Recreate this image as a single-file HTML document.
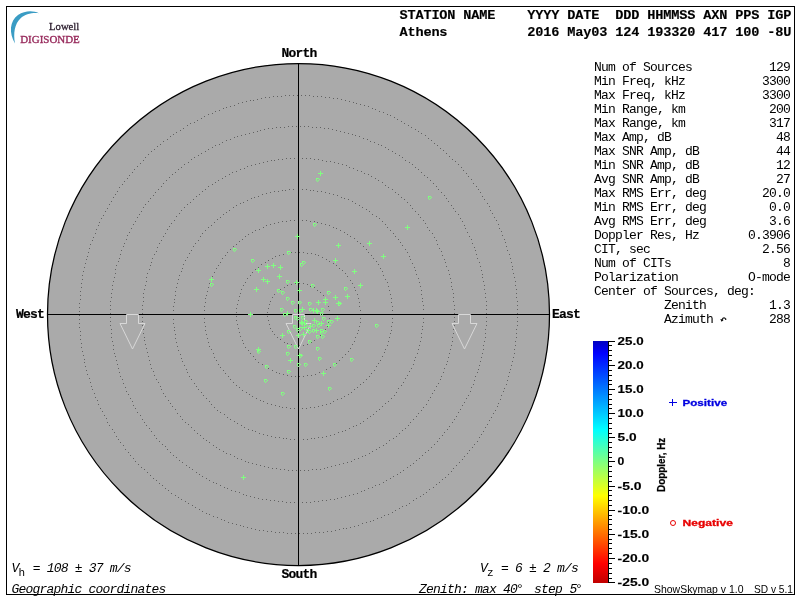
<!DOCTYPE html>
<html><head><meta charset="utf-8"><title>Skymap</title>
<style>
html,body{margin:0;padding:0;background:#fff;}
body{width:800px;height:600px;overflow:hidden;position:relative;}
svg{position:absolute;left:0;top:0;}
.t{position:absolute;white-space:pre;color:#000;line-height:1;margin:0;padding:0;}
.m{font-family:"Liberation Mono",monospace;font-size:13px;letter-spacing:-0.801px;}
.mb{-webkit-text-stroke:0.2px #000;font-family:"Liberation Mono",monospace;font-weight:bold;font-size:13px;letter-spacing:-0.801px;}
.mi{font-family:"Liberation Mono",monospace;font-style:italic;font-size:13px;letter-spacing:-0.801px;}
.sub{font-style:normal;font-size:11px;letter-spacing:0.4px;position:relative;top:4px;}
.hb{-webkit-text-stroke:0.15px #000;font-family:"Liberation Mono",monospace;font-weight:bold;font-size:13.6px;letter-spacing:-0.161px;}
#w{position:absolute;left:0;top:0;width:800px;height:600px;will-change:transform;}
</style></head><body><div id="w">
<svg width="800" height="600" viewBox="0 0 800 600">
<defs>
<linearGradient id="cb" x1="0" y1="0" x2="0" y2="1">
<stop offset="0" stop-color="#0000c0"/>
<stop offset="0.05" stop-color="#0000ff"/>
<stop offset="0.367" stop-color="#00ffff"/>
<stop offset="0.5" stop-color="#80ff80"/>
<stop offset="0.64" stop-color="#ffff00"/>
<stop offset="0.92" stop-color="#ff0000"/>
<stop offset="1" stop-color="#c00000"/>
</linearGradient>
</defs>

<circle cx="298.5" cy="314.5" r="251.0" fill="#aaaaaa" stroke="#000" stroke-width="1.25"/>
<path d="M329 314.5h1M329 310.5h1M328 306.5h1M327 302.5h1M325 299.5h1M323 295.5h1M320 292.5h1M317 290.5h1M314 287.5h1M310 286.5h1M307 284.5h1M303 283.5h1M299 283.5h1M295 283.5h1M291 284.5h1M287 285.5h1M284 287.5h1M280 289.5h1M277 291.5h1M274 294.5h1M272 297.5h1M270 301.5h1M269 304.5h1M268 308.5h1M267 312.5h1M267 316.5h1M268 320.5h1M269 324.5h1M270 328.5h1M272 331.5h1M274 334.5h1M277 337.5h1M280 339.5h1M284 342.5h1M287 343.5h1M291 344.5h1M295 345.5h1M299 345.5h1M303 345.5h1M307 344.5h1M311 342.5h1M314 340.5h1M317 338.5h1M320 335.5h1M323 332.5h1M325 329.5h1M327 326.5h1M328 322.5h1M329 318.5h1M360 314.5h1M360 310.5h1M359 306.5h1M359 302.5h1M358 298.5h1M357 294.5h1M355 290.5h1M354 287.5h1M352 283.5h1M350 280.5h1M347 276.5h1M345 273.5h1M342 270.5h1M339 268.5h1M336 265.5h1M333 263.5h1M329 261.5h1M326 259.5h1M322 257.5h1M318 255.5h1M315 254.5h1M311 253.5h1M307 253.5h1M303 252.5h1M299 252.5h1M295 252.5h1M291 252.5h1M287 253.5h1M283 254.5h1M279 255.5h1M275 256.5h1M272 258.5h1M268 260.5h1M265 262.5h1M261 264.5h1M258 267.5h1M255 269.5h1M252 272.5h1M250 275.5h1M247 278.5h1M245 282.5h1M243 285.5h1M241 289.5h1M240 293.5h1M239 296.5h1M238 300.5h1M237 304.5h1M236 308.5h1M236 312.5h1M236 316.5h1M236 320.5h1M237 324.5h1M238 328.5h1M239 332.5h1M240 336.5h1M242 340.5h1M243 343.5h1M245 347.5h1M248 350.5h1M250 353.5h1M253 356.5h1M255 359.5h1M258 362.5h1M262 364.5h1M265 366.5h1M268 368.5h1M272 370.5h1M276 372.5h1M279 373.5h1M283 374.5h1M287 375.5h1M291 376.5h1M295 376.5h1M299 376.5h1M303 376.5h1M307 375.5h1M311 375.5h1M315 374.5h1M319 372.5h1M323 371.5h1M326 369.5h1M330 367.5h1M333 365.5h1M336 363.5h1M339 360.5h1M342 357.5h1M345 354.5h1M348 351.5h1M350 348.5h1M352 344.5h1M354 341.5h1M355 337.5h1M357 333.5h1M358 330.5h1M359 326.5h1M360 322.5h1M360 318.5h1M392 314.5h1M392 310.5h1M392 306.5h1M391 302.5h1M391 298.5h1M390 294.5h1M389 290.5h1M388 286.5h1M387 282.5h1M385 279.5h1M383 275.5h1M382 271.5h1M380 268.5h1M378 264.5h1M376 261.5h1M373 258.5h1M371 255.5h1M368 252.5h1M366 249.5h1M363 246.5h1M360 243.5h1M357 241.5h1M354 238.5h1M350 236.5h1M347 234.5h1M344 232.5h1M340 230.5h1M336 228.5h1M333 227.5h1M329 225.5h1M325 224.5h1M321 223.5h1M317 222.5h1M314 221.5h1M310 221.5h1M306 220.5h1M302 220.5h1M298 220.5h1M294 220.5h1M290 220.5h1M286 221.5h1M282 221.5h1M278 222.5h1M274 223.5h1M270 224.5h1M266 225.5h1M263 227.5h1M259 229.5h1M255 230.5h1M252 232.5h1M248 234.5h1M245 236.5h1M242 239.5h1M239 241.5h1M236 244.5h1M233 246.5h1M230 249.5h1M227 252.5h1M225 255.5h1M222 258.5h1M220 262.5h1M218 265.5h1M216 268.5h1M214 272.5h1M212 276.5h1M211 279.5h1M209 283.5h1M208 287.5h1M207 291.5h1M206 295.5h1M205 298.5h1M205 302.5h1M204 306.5h1M204 310.5h1M204 314.5h1M204 318.5h1M204 322.5h1M205 326.5h1M205 330.5h1M206 334.5h1M207 338.5h1M208 342.5h1M209 346.5h1M211 349.5h1M213 353.5h1M214 357.5h1M216 360.5h1M218 364.5h1M220 367.5h1M223 370.5h1M225 373.5h1M228 376.5h1M230 379.5h1M233 382.5h1M236 385.5h1M239 387.5h1M242 390.5h1M246 392.5h1M249 394.5h1M252 396.5h1M256 398.5h1M260 400.5h1M263 401.5h1M267 403.5h1M271 404.5h1M275 405.5h1M279 406.5h1M282 407.5h1M286 407.5h1M290 408.5h1M294 408.5h1M298 408.5h1M302 408.5h1M306 408.5h1M310 407.5h1M314 407.5h1M318 406.5h1M322 405.5h1M326 404.5h1M330 403.5h1M333 401.5h1M337 399.5h1M341 398.5h1M344 396.5h1M348 394.5h1M351 392.5h1M354 389.5h1M357 387.5h1M360 384.5h1M363 382.5h1M366 379.5h1M369 376.5h1M371 373.5h1M374 370.5h1M376 366.5h1M378 363.5h1M380 360.5h1M382 356.5h1M384 352.5h1M385 349.5h1M387 345.5h1M388 341.5h1M389 337.5h1M390 333.5h1M391 330.5h1M391 326.5h1M392 322.5h1M392 318.5h1M423 314.5h1M423 309.5h1M423 305.5h1M422 301.5h1M422 298.5h1M421 294.5h1M421 290.5h1M420 286.5h1M419 282.5h1M418 278.5h1M416 274.5h1M415 270.5h1M414 267.5h1M412 263.5h1M410 259.5h1M409 256.5h1M407 252.5h1M405 249.5h1M402 245.5h1M400 242.5h1M398 239.5h1M395 236.5h1M393 233.5h1M390 230.5h1M387 227.5h1M385 224.5h1M382 221.5h1M379 218.5h1M376 216.5h1M372 214.5h1M369 211.5h1M366 209.5h1M362 207.5h1M359 205.5h1M355 203.5h1M352 201.5h1M348 199.5h1M344 198.5h1M341 197.5h1M337 195.5h1M333 194.5h1M329 193.5h1M325 192.5h1M321 191.5h1M317 191.5h1M313 190.5h1M310 190.5h1M306 189.5h1M302 189.5h1M298 189.5h1M293 189.5h1M289 189.5h1M285 190.5h1M282 190.5h1M278 191.5h1M274 191.5h1M270 192.5h1M266 193.5h1M262 194.5h1M258 196.5h1M254 197.5h1M251 198.5h1M247 200.5h1M243 202.5h1M240 203.5h1M236 205.5h1M233 207.5h1M229 210.5h1M226 212.5h1M223 214.5h1M220 217.5h1M217 219.5h1M214 222.5h1M211 225.5h1M208 227.5h1M205 230.5h1M202 233.5h1M200 236.5h1M198 240.5h1M195 243.5h1M193 246.5h1M191 250.5h1M189 253.5h1M187 257.5h1M185 260.5h1M183 264.5h1M182 268.5h1M181 271.5h1M179 275.5h1M178 279.5h1M177 283.5h1M176 287.5h1M175 291.5h1M175 295.5h1M174 299.5h1M174 302.5h1M173 306.5h1M173 310.5h1M173 314.5h1M173 319.5h1M173 323.5h1M174 327.5h1M174 330.5h1M175 334.5h1M175 338.5h1M176 342.5h1M177 346.5h1M178 350.5h1M180 354.5h1M181 358.5h1M182 361.5h1M184 365.5h1M186 369.5h1M187 372.5h1M189 376.5h1M191 379.5h1M194 383.5h1M196 386.5h1M198 389.5h1M201 392.5h1M203 395.5h1M206 398.5h1M209 401.5h1M211 404.5h1M214 407.5h1M217 410.5h1M220 412.5h1M224 414.5h1M227 417.5h1M230 419.5h1M234 421.5h1M237 423.5h1M241 425.5h1M244 427.5h1M248 429.5h1M252 430.5h1M255 431.5h1M259 433.5h1M263 434.5h1M267 435.5h1M271 436.5h1M275 437.5h1M279 437.5h1M283 438.5h1M286 438.5h1M290 439.5h1M294 439.5h1M298 439.5h1M303 439.5h1M307 439.5h1M311 438.5h1M314 438.5h1M318 437.5h1M322 437.5h1M326 436.5h1M330 435.5h1M334 434.5h1M338 432.5h1M342 431.5h1M345 430.5h1M349 428.5h1M353 426.5h1M356 425.5h1M360 423.5h1M363 421.5h1M367 418.5h1M370 416.5h1M373 414.5h1M376 411.5h1M379 409.5h1M382 406.5h1M385 403.5h1M388 401.5h1M391 398.5h1M394 395.5h1M396 392.5h1M398 388.5h1M401 385.5h1M403 382.5h1M405 378.5h1M407 375.5h1M409 371.5h1M411 368.5h1M413 364.5h1M414 360.5h1M415 357.5h1M417 353.5h1M418 349.5h1M419 345.5h1M420 341.5h1M421 337.5h1M421 333.5h1M422 329.5h1M422 326.5h1M423 322.5h1M423 318.5h1M454 313.5h1M454 309.5h1M454 305.5h1M453 301.5h1M453 297.5h1M453 293.5h1M452 289.5h1M451 286.5h1M451 282.5h1M450 278.5h1M449 274.5h1M448 270.5h1M446 266.5h1M445 262.5h1M444 259.5h1M442 255.5h1M441 251.5h1M439 248.5h1M437 244.5h1M436 240.5h1M434 237.5h1M432 233.5h1M429 230.5h1M427 227.5h1M425 223.5h1M423 220.5h1M420 217.5h1M418 214.5h1M415 211.5h1M412 208.5h1M410 205.5h1M407 202.5h1M404 199.5h1M401 197.5h1M398 194.5h1M395 192.5h1M392 189.5h1M388 187.5h1M385 185.5h1M382 182.5h1M378 180.5h1M375 178.5h1M371 176.5h1M368 174.5h1M364 173.5h1M361 171.5h1M357 170.5h1M353 168.5h1M349 167.5h1M346 165.5h1M342 164.5h1M338 163.5h1M334 162.5h1M330 161.5h1M326 161.5h1M322 160.5h1M318 159.5h1M314 159.5h1M310 158.5h1M306 158.5h1M302 158.5h1M298 158.5h1M294 158.5h1M290 158.5h1M286 158.5h1M282 159.5h1M278 159.5h1M274 160.5h1M271 160.5h1M267 161.5h1M263 162.5h1M259 163.5h1M255 164.5h1M251 165.5h1M247 166.5h1M244 168.5h1M240 169.5h1M236 171.5h1M232 172.5h1M229 174.5h1M225 176.5h1M222 178.5h1M218 180.5h1M215 182.5h1M212 184.5h1M208 186.5h1M205 189.5h1M202 191.5h1M199 194.5h1M196 196.5h1M193 199.5h1M190 202.5h1M187 204.5h1M184 207.5h1M181 210.5h1M179 213.5h1M176 216.5h1M174 220.5h1M171 223.5h1M169 226.5h1M167 229.5h1M165 233.5h1M163 236.5h1M161 240.5h1M159 243.5h1M157 247.5h1M156 251.5h1M154 254.5h1M152 258.5h1M151 262.5h1M150 265.5h1M149 269.5h1M147 273.5h1M146 277.5h1M146 281.5h1M145 285.5h1M144 289.5h1M143 293.5h1M143 297.5h1M143 301.5h1M142 305.5h1M142 309.5h1M142 313.5h1M142 317.5h1M142 321.5h1M142 325.5h1M143 329.5h1M143 333.5h1M144 337.5h1M144 340.5h1M145 344.5h1M146 348.5h1M147 352.5h1M148 356.5h1M149 360.5h1M150 364.5h1M151 368.5h1M153 371.5h1M154 375.5h1M156 379.5h1M158 382.5h1M160 386.5h1M161 389.5h1M163 393.5h1M165 396.5h1M168 400.5h1M170 403.5h1M172 406.5h1M175 409.5h1M177 413.5h1M180 416.5h1M182 419.5h1M185 422.5h1M188 424.5h1M191 427.5h1M194 430.5h1M197 433.5h1M200 435.5h1M203 438.5h1M206 440.5h1M209 442.5h1M213 445.5h1M216 447.5h1M219 449.5h1M223 451.5h1M226 453.5h1M230 454.5h1M234 456.5h1M237 458.5h1M241 459.5h1M245 461.5h1M248 462.5h1M252 463.5h1M256 464.5h1M260 465.5h1M264 466.5h1M268 467.5h1M272 468.5h1M276 468.5h1M280 469.5h1M284 469.5h1M288 470.5h1M292 470.5h1M296 470.5h1M300 470.5h1M304 470.5h1M308 470.5h1M312 469.5h1M316 469.5h1M320 469.5h1M324 468.5h1M327 467.5h1M331 466.5h1M335 465.5h1M339 464.5h1M343 463.5h1M347 462.5h1M351 461.5h1M354 459.5h1M358 458.5h1M362 456.5h1M365 455.5h1M369 453.5h1M372 451.5h1M376 449.5h1M379 447.5h1M383 445.5h1M386 443.5h1M389 440.5h1M393 438.5h1M396 436.5h1M399 433.5h1M402 430.5h1M405 428.5h1M408 425.5h1M410 422.5h1M413 419.5h1M416 416.5h1M418 413.5h1M421 410.5h1M423 407.5h1M426 404.5h1M428 400.5h1M430 397.5h1M432 393.5h1M434 390.5h1M436 386.5h1M438 383.5h1M440 379.5h1M441 376.5h1M443 372.5h1M444 368.5h1M446 364.5h1M447 361.5h1M448 357.5h1M449 353.5h1M450 349.5h1M451 345.5h1M452 341.5h1M452 337.5h1M453 333.5h1M453 329.5h1M454 325.5h1M454 321.5h1M454 317.5h1M486 313.5h1M486 309.5h1M486 305.5h1M486 301.5h1M485 297.5h1M485 293.5h1M484 289.5h1M484 285.5h1M483 281.5h1M482 277.5h1M482 274.5h1M481 270.5h1M480 266.5h1M479 262.5h1M477 258.5h1M476 254.5h1M475 250.5h1M474 247.5h1M472 243.5h1M471 239.5h1M469 236.5h1M467 232.5h1M465 228.5h1M464 225.5h1M462 221.5h1M460 218.5h1M458 214.5h1M455 211.5h1M453 208.5h1M451 205.5h1M448 201.5h1M446 198.5h1M444 195.5h1M441 192.5h1M438 189.5h1M436 186.5h1M433 183.5h1M430 180.5h1M427 177.5h1M424 175.5h1M421 172.5h1M418 169.5h1M415 167.5h1M412 164.5h1M409 162.5h1M405 160.5h1M402 157.5h1M399 155.5h1M395 153.5h1M392 151.5h1M388 149.5h1M385 147.5h1M381 145.5h1M378 144.5h1M374 142.5h1M370 141.5h1M367 139.5h1M363 138.5h1M359 136.5h1M355 135.5h1M352 134.5h1M348 133.5h1M344 132.5h1M340 131.5h1M336 130.5h1M332 129.5h1M328 128.5h1M324 128.5h1M320 127.5h1M316 127.5h1M312 127.5h1M308 126.5h1M304 126.5h1M300 126.5h1M296 126.5h1M292 126.5h1M288 126.5h1M284 127.5h1M280 127.5h1M276 127.5h1M272 128.5h1M268 128.5h1M264 129.5h1M260 130.5h1M257 131.5h1M253 132.5h1M249 133.5h1M245 134.5h1M241 135.5h1M237 136.5h1M234 137.5h1M230 139.5h1M226 140.5h1M222 142.5h1M219 144.5h1M215 145.5h1M212 147.5h1M208 149.5h1M205 151.5h1M201 153.5h1M198 155.5h1M194 157.5h1M191 159.5h1M188 162.5h1M184 164.5h1M181 167.5h1M178 169.5h1M175 172.5h1M172 174.5h1M169 177.5h1M166 180.5h1M163 183.5h1M161 186.5h1M158 189.5h1M155 192.5h1M153 195.5h1M150 198.5h1M148 201.5h1M145 204.5h1M143 207.5h1M141 211.5h1M139 214.5h1M137 217.5h1M135 221.5h1M133 224.5h1M131 228.5h1M129 232.5h1M127 235.5h1M126 239.5h1M124 243.5h1M123 246.5h1M121 250.5h1M120 254.5h1M119 258.5h1M118 261.5h1M116 265.5h1M115 269.5h1M115 273.5h1M114 277.5h1M113 281.5h1M112 285.5h1M112 289.5h1M111 293.5h1M111 297.5h1M110 301.5h1M110 305.5h1M110 309.5h1M110 313.5h1M110 317.5h1M110 321.5h1M110 325.5h1M111 329.5h1M111 333.5h1M111 337.5h1M112 341.5h1M113 345.5h1M113 349.5h1M114 353.5h1M115 356.5h1M116 360.5h1M117 364.5h1M118 368.5h1M119 372.5h1M120 376.5h1M122 379.5h1M123 383.5h1M125 387.5h1M126 391.5h1M128 394.5h1M130 398.5h1M132 401.5h1M133 405.5h1M135 408.5h1M137 412.5h1M140 415.5h1M142 419.5h1M144 422.5h1M146 425.5h1M149 428.5h1M151 431.5h1M154 435.5h1M156 438.5h1M159 441.5h1M162 444.5h1M165 446.5h1M167 449.5h1M170 452.5h1M173 455.5h1M176 457.5h1M179 460.5h1M182 462.5h1M186 465.5h1M189 467.5h1M192 469.5h1M196 472.5h1M199 474.5h1M202 476.5h1M206 478.5h1M209 480.5h1M213 482.5h1M216 483.5h1M220 485.5h1M224 487.5h1M227 488.5h1M231 490.5h1M235 491.5h1M239 492.5h1M243 494.5h1M246 495.5h1M250 496.5h1M254 497.5h1M258 498.5h1M262 499.5h1M266 499.5h1M270 500.5h1M274 500.5h1M278 501.5h1M282 501.5h1M286 502.5h1M290 502.5h1M294 502.5h1M298 502.5h1M302 502.5h1M306 502.5h1M310 502.5h1M314 501.5h1M318 501.5h1M322 500.5h1M326 500.5h1M330 499.5h1M334 499.5h1M337 498.5h1M341 497.5h1M345 496.5h1M349 495.5h1M353 494.5h1M357 493.5h1M361 491.5h1M364 490.5h1M368 488.5h1M372 487.5h1M375 485.5h1M379 484.5h1M383 482.5h1M386 480.5h1M390 478.5h1M393 476.5h1M397 474.5h1M400 472.5h1M403 470.5h1M407 467.5h1M410 465.5h1M413 463.5h1M416 460.5h1M419 458.5h1M422 455.5h1M425 452.5h1M428 450.5h1M431 447.5h1M434 444.5h1M437 441.5h1M439 438.5h1M442 435.5h1M444 432.5h1M447 429.5h1M449 426.5h1M452 422.5h1M454 419.5h1M456 416.5h1M458 412.5h1M460 409.5h1M462 405.5h1M464 402.5h1M466 398.5h1M468 395.5h1M470 391.5h1M471 387.5h1M473 384.5h1M474 380.5h1M475 376.5h1M477 372.5h1M478 369.5h1M479 365.5h1M480 361.5h1M481 357.5h1M482 353.5h1M483 349.5h1M483 345.5h1M484 341.5h1M485 337.5h1M485 333.5h1M485 329.5h1M486 325.5h1M486 321.5h1M486 317.5h1M517 313.5h1M517 309.5h1M517 305.5h1M517 301.5h1M516 297.5h1M516 293.5h1M516 289.5h1M515 285.5h1M515 281.5h1M514 277.5h1M513 273.5h1M512 269.5h1M512 266.5h1M511 262.5h1M510 258.5h1M509 254.5h1M507 250.5h1M506 246.5h1M505 242.5h1M504 239.5h1M502 235.5h1M501 231.5h1M499 228.5h1M498 224.5h1M496 220.5h1M494 217.5h1M492 213.5h1M490 210.5h1M489 206.5h1M487 203.5h1M484 199.5h1M482 196.5h1M480 192.5h1M478 189.5h1M476 186.5h1M473 183.5h1M471 179.5h1M468 176.5h1M466 173.5h1M463 170.5h1M461 167.5h1M458 164.5h1M455 161.5h1M452 159.5h1M449 156.5h1M446 153.5h1M443 150.5h1M440 148.5h1M437 145.5h1M434 143.5h1M431 140.5h1M428 138.5h1M425 135.5h1M421 133.5h1M418 131.5h1M415 129.5h1M411 127.5h1M408 125.5h1M404 123.5h1M401 121.5h1M397 119.5h1M394 117.5h1M390 115.5h1M387 114.5h1M383 112.5h1M379 111.5h1M375 109.5h1M372 108.5h1M368 106.5h1M364 105.5h1M360 104.5h1M356 103.5h1M353 102.5h1M349 101.5h1M345 100.5h1M341 99.5h1M337 98.5h1M333 98.5h1M329 97.5h1M325 97.5h1M321 96.5h1M317 96.5h1M313 96.5h1M309 95.5h1M305 95.5h1M301 95.5h1M297 95.5h1M293 95.5h1M289 95.5h1M285 95.5h1M281 96.5h1M277 96.5h1M273 96.5h1M269 97.5h1M265 97.5h1M261 98.5h1M257 99.5h1M253 100.5h1M250 100.5h1M246 101.5h1M242 102.5h1M238 103.5h1M234 105.5h1M230 106.5h1M226 107.5h1M223 108.5h1M219 110.5h1M215 111.5h1M212 113.5h1M208 114.5h1M204 116.5h1M201 118.5h1M197 120.5h1M194 122.5h1M190 123.5h1M187 125.5h1M183 128.5h1M180 130.5h1M176 132.5h1M173 134.5h1M170 136.5h1M167 139.5h1M163 141.5h1M160 144.5h1M157 146.5h1M154 149.5h1M151 151.5h1M148 154.5h1M145 157.5h1M143 160.5h1M140 163.5h1M137 166.5h1M134 169.5h1M132 172.5h1M129 175.5h1M127 178.5h1M124 181.5h1M122 184.5h1M119 187.5h1M117 191.5h1M115 194.5h1M113 197.5h1M111 201.5h1M109 204.5h1M107 208.5h1M105 211.5h1M103 215.5h1M101 218.5h1M99 222.5h1M98 225.5h1M96 229.5h1M95 233.5h1M93 237.5h1M92 240.5h1M90 244.5h1M89 248.5h1M88 252.5h1M87 256.5h1M86 259.5h1M85 263.5h1M84 267.5h1M83 271.5h1M82 275.5h1M82 279.5h1M81 283.5h1M81 287.5h1M80 291.5h1M80 295.5h1M80 299.5h1M79 303.5h1M79 307.5h1M79 311.5h1M79 315.5h1M79 319.5h1M79 323.5h1M79 327.5h1M80 331.5h1M80 335.5h1M80 339.5h1M81 343.5h1M81 347.5h1M82 351.5h1M83 355.5h1M84 359.5h1M84 362.5h1M85 366.5h1M86 370.5h1M87 374.5h1M89 378.5h1M90 382.5h1M91 386.5h1M92 389.5h1M94 393.5h1M95 397.5h1M97 400.5h1M98 404.5h1M100 408.5h1M102 411.5h1M104 415.5h1M106 418.5h1M107 422.5h1M109 425.5h1M112 429.5h1M114 432.5h1M116 436.5h1M118 439.5h1M120 442.5h1M123 445.5h1M125 449.5h1M128 452.5h1M130 455.5h1M133 458.5h1M135 461.5h1M138 464.5h1M141 467.5h1M144 469.5h1M147 472.5h1M150 475.5h1M153 478.5h1M156 480.5h1M159 483.5h1M162 485.5h1M165 488.5h1M168 490.5h1M171 493.5h1M175 495.5h1M178 497.5h1M181 499.5h1M185 501.5h1M188 503.5h1M192 505.5h1M195 507.5h1M199 509.5h1M202 511.5h1M206 513.5h1M209 514.5h1M213 516.5h1M217 517.5h1M221 519.5h1M224 520.5h1M228 522.5h1M232 523.5h1M236 524.5h1M240 525.5h1M243 526.5h1M247 527.5h1M251 528.5h1M255 529.5h1M259 530.5h1M263 530.5h1M267 531.5h1M271 531.5h1M275 532.5h1M279 532.5h1M283 532.5h1M287 533.5h1M291 533.5h1M295 533.5h1M299 533.5h1M303 533.5h1M307 533.5h1M311 533.5h1M315 532.5h1M319 532.5h1M323 532.5h1M327 531.5h1M331 531.5h1M335 530.5h1M339 529.5h1M343 528.5h1M346 528.5h1M350 527.5h1M354 526.5h1M358 525.5h1M362 523.5h1M366 522.5h1M370 521.5h1M373 520.5h1M377 518.5h1M381 517.5h1M384 515.5h1M388 514.5h1M392 512.5h1M395 510.5h1M399 508.5h1M402 506.5h1M406 505.5h1M409 503.5h1M413 500.5h1M416 498.5h1M420 496.5h1M423 494.5h1M426 492.5h1M429 489.5h1M433 487.5h1M436 484.5h1M439 482.5h1M442 479.5h1M445 477.5h1M448 474.5h1M451 471.5h1M453 468.5h1M456 465.5h1M459 462.5h1M462 459.5h1M464 456.5h1M467 453.5h1M469 450.5h1M472 447.5h1M474 444.5h1M477 441.5h1M479 437.5h1M481 434.5h1M483 431.5h1M485 427.5h1M487 424.5h1M489 420.5h1M491 417.5h1M493 413.5h1M495 410.5h1M497 406.5h1M498 403.5h1M500 399.5h1M501 395.5h1M503 391.5h1M504 388.5h1M506 384.5h1M507 380.5h1M508 376.5h1M509 372.5h1M510 369.5h1M511 365.5h1M512 361.5h1M513 357.5h1M514 353.5h1M514 349.5h1M515 345.5h1M515 341.5h1M516 337.5h1M516 333.5h1M516 329.5h1M517 325.5h1M517 321.5h1M517 317.5h1" stroke="#626262" stroke-width="1" fill="none" shape-rendering="crispEdges"/>
<line x1="298.5" y1="63.5" x2="298.5" y2="565.5" stroke="#000" stroke-width="1"/>
<line x1="47.5" y1="314.5" x2="549.5" y2="314.5" stroke="#000" stroke-width="1"/>
<path d="M126.5,314.5 H138.5 V323.5 H145.0 L132.5,349 L120.0,323.5 H126.5 Z" fill="none" stroke="#d8d8d8" stroke-width="1"/>
<path d="M292.5,314.5 H304.5 V323.5 H311.0 L298.5,349 L286.0,323.5 H292.5 Z" fill="none" stroke="#d8d8d8" stroke-width="1"/>
<path d="M458.5,314.5 H470.5 V323.5 H477.0 L464.5,349 L452.0,323.5 H458.5 Z" fill="none" stroke="#d8d8d8" stroke-width="1"/>
<g stroke="#80ff80" stroke-width="1" fill="none" shape-rendering="crispEdges">
<path d="M318.0,173.5h5M320.5,171.0v5M405.0,227.5h5M407.5,225.0v5M295.0,236.5h5M297.5,234.0v5M367.0,243.5h5M369.5,241.0v5M336.0,245.5h5M338.5,243.0v5M381.0,256.5h5M383.5,254.0v5M333.0,260.5h5M335.5,258.0v5M265.0,266.5h5M267.5,264.0v5M271.0,265.5h5M273.5,263.0v5M278.0,267.5h5M280.5,265.0v5M256.0,270.5h5M258.5,268.0v5M352.0,271.5h5M354.5,269.0v5M277.0,276.5h5M279.5,274.0v5M261.0,279.5h5M263.5,277.0v5M209.0,279.5h5M211.5,277.0v5M265.0,281.5h5M267.5,279.0v5M294.0,282.5h5M296.5,280.0v5M358.0,285.5h5M360.5,283.0v5M254.0,289.5h5M256.5,287.0v5M297.0,290.5h5M299.5,288.0v5M345.0,296.5h5M347.5,294.0v5M333.0,297.5h5M335.5,295.0v5M323.0,299.5h5M325.5,297.0v5M316.0,302.5h5M318.5,300.0v5M323.0,302.5h5M325.5,300.0v5M336.0,303.5h5M338.5,301.0v5M300.0,309.5h5M302.5,307.0v5M311.0,310.5h5M313.5,308.0v5M314.0,310.5h5M316.5,308.0v5M315.0,311.5h5M317.5,309.0v5M285.0,313.5h5M287.5,311.0v5M248.0,314.5h5M250.5,312.0v5M335.0,318.5h5M337.5,316.0v5M312.0,320.5h5M314.5,318.0v5M299.0,322.5h5M301.5,320.0v5M300.0,323.5h5M302.5,321.0v5M319.0,323.5h5M321.5,321.0v5M326.0,325.5h5M328.5,323.0v5M308.0,326.5h5M310.5,324.0v5M302.0,327.5h5M304.5,325.0v5M314.0,330.5h5M316.5,328.0v5M280.0,335.5h5M282.5,333.0v5M296.0,335.5h5M298.5,333.0v5M301.0,334.5h5M303.5,332.0v5M256.0,349.5h5M258.5,347.0v5M297.0,355.5h5M299.5,353.0v5M288.0,360.5h5M290.5,358.0v5M321.0,373.5h5M323.5,371.0v5M241.0,477.5h5M243.5,475.0v5"/>
</g>
<g stroke="#80ff80" stroke-width="1" fill="none" shape-rendering="crispEdges">
<path d="M316,178.5h3M316.5,179v2M319,179.5h1M318,180.5h1M317,181.5h1M428,196.5h3M428.5,197v2M431,197.5h1M430,198.5h1M429,199.5h1M313,223.5h3M313.5,224v2M316,224.5h1M315,225.5h1M314,226.5h1M233,248.5h3M233.5,249v2M236,249.5h1M235,250.5h1M234,251.5h1M287,251.5h3M287.5,252v2M290,252.5h1M289,253.5h1M288,254.5h1M251,259.5h3M251.5,260v2M254,260.5h1M253,261.5h1M252,262.5h1M302,261.5h3M302.5,262v2M305,262.5h1M304,263.5h1M303,264.5h1M300,263.5h3M300.5,264v2M303,264.5h1M302,265.5h1M301,266.5h1M286,280.5h3M286.5,281v2M289,281.5h1M288,282.5h1M287,283.5h1M210,283.5h3M210.5,284v2M213,284.5h1M212,285.5h1M211,286.5h1M311,284.5h3M311.5,285v2M314,285.5h1M313,286.5h1M312,287.5h1M277,289.5h3M277.5,290v2M280,290.5h1M279,291.5h1M278,292.5h1M281,291.5h3M281.5,292v2M284,292.5h1M283,293.5h1M282,294.5h1M327,291.5h3M327.5,292v2M330,292.5h1M329,293.5h1M328,294.5h1M344,287.5h3M344.5,288v2M347,288.5h1M346,289.5h1M345,290.5h1M286,297.5h3M286.5,298v2M289,298.5h1M288,299.5h1M287,300.5h1M291,301.5h3M291.5,302v2M294,302.5h1M293,303.5h1M292,304.5h1M298,301.5h3M298.5,302v2M301,302.5h1M300,303.5h1M299,304.5h1M308,302.5h3M308.5,303v2M311,303.5h1M310,304.5h1M309,305.5h1M338,302.5h3M338.5,303v2M341,303.5h1M340,304.5h1M339,305.5h1M280,308.5h3M280.5,309v2M283,309.5h1M282,310.5h1M281,311.5h1M294,309.5h3M294.5,310v2M297,310.5h1M296,311.5h1M295,312.5h1M299,309.5h3M299.5,310v2M302,310.5h1M301,311.5h1M300,312.5h1M309,308.5h3M309.5,309v2M312,309.5h1M311,310.5h1M310,311.5h1M321,308.5h3M321.5,309v2M324,309.5h1M323,310.5h1M322,311.5h1M283,313.5h3M283.5,314v2M286,314.5h1M285,315.5h1M284,316.5h1M320,312.5h3M320.5,313v2M323,313.5h1M322,314.5h1M321,315.5h1M294,316.5h3M294.5,317v2M297,317.5h1M296,318.5h1M295,319.5h1M296,317.5h3M296.5,318v2M299,318.5h1M298,319.5h1M297,320.5h1M301,316.5h3M301.5,317v2M304,317.5h1M303,318.5h1M302,319.5h1M322,317.5h3M322.5,318v2M325,318.5h1M324,319.5h1M323,320.5h1M304,320.5h3M304.5,321v2M307,321.5h1M306,322.5h1M305,323.5h1M316,321.5h3M316.5,322v2M319,322.5h1M318,323.5h1M317,324.5h1M327,320.5h3M327.5,321v2M330,321.5h1M329,322.5h1M328,323.5h1M330,320.5h3M330.5,321v2M333,321.5h1M332,322.5h1M331,323.5h1M317,324.5h3M317.5,325v2M320,325.5h1M319,326.5h1M318,327.5h1M312,324.5h3M312.5,325v2M315,325.5h1M314,326.5h1M313,327.5h1M304,324.5h3M304.5,325v2M307,325.5h1M306,326.5h1M305,327.5h1M293,325.5h3M293.5,326v2M296,326.5h1M295,327.5h1M294,328.5h1M375,324.5h3M375.5,325v2M378,325.5h1M377,326.5h1M376,327.5h1M299,327.5h3M299.5,328v2M302,328.5h1M301,329.5h1M300,330.5h1M296,328.5h3M296.5,329v2M299,329.5h1M298,330.5h1M297,331.5h1M287,330.5h3M287.5,331v2M290,331.5h1M289,332.5h1M288,333.5h1M306,329.5h3M306.5,330v2M309,330.5h1M308,331.5h1M307,332.5h1M308,330.5h3M308.5,331v2M311,331.5h1M310,332.5h1M309,333.5h1M312,329.5h3M312.5,330v2M315,330.5h1M314,331.5h1M313,332.5h1M320,329.5h3M320.5,330v2M323,330.5h1M322,331.5h1M321,332.5h1M320,331.5h3M320.5,332v2M323,332.5h1M322,333.5h1M321,334.5h1M323,330.5h3M323.5,331v2M326,331.5h1M325,332.5h1M324,333.5h1M316,335.5h3M316.5,336v2M319,336.5h1M318,337.5h1M317,338.5h1M321,335.5h3M321.5,336v2M324,336.5h1M323,337.5h1M322,338.5h1M308,340.5h3M308.5,341v2M311,341.5h1M310,342.5h1M309,343.5h1M287,345.5h3M287.5,346v2M290,346.5h1M289,347.5h1M288,348.5h1M294,345.5h3M294.5,346v2M297,346.5h1M296,347.5h1M295,348.5h1M316,347.5h3M316.5,348v2M319,348.5h1M318,349.5h1M317,350.5h1M257,350.5h3M257.5,351v2M260,351.5h1M259,352.5h1M258,353.5h1M286,352.5h3M286.5,353v2M289,353.5h1M288,354.5h1M287,355.5h1M299,354.5h3M299.5,355v2M302,355.5h1M301,356.5h1M300,357.5h1M318,357.5h3M318.5,358v2M321,358.5h1M320,359.5h1M319,360.5h1M350,358.5h3M350.5,359v2M353,359.5h1M352,360.5h1M351,361.5h1M297,363.5h3M297.5,364v2M300,364.5h1M299,365.5h1M298,366.5h1M304,363.5h3M304.5,364v2M307,364.5h1M306,365.5h1M305,366.5h1M333,363.5h3M333.5,364v2M336,364.5h1M335,365.5h1M334,366.5h1M265,365.5h3M265.5,366v2M268,366.5h1M267,367.5h1M266,368.5h1M287,370.5h3M287.5,371v2M290,371.5h1M289,372.5h1M288,373.5h1M264,379.5h3M264.5,380v2M267,380.5h1M266,381.5h1M265,382.5h1M328,387.5h3M328.5,388v2M331,388.5h1M330,389.5h1M329,390.5h1M281,392.5h3M281.5,393v2M284,393.5h1M283,394.5h1M282,395.5h1"/>
</g>
<rect x="593" y="341" width="15" height="242" fill="url(#cb)"/>
<line x1="608.5" y1="341" x2="608.5" y2="583" stroke="#000" stroke-width="1"/>
<path d="M609,341.5h6M609,345.5h3M609,350.5h3M609,355.5h3M609,360.5h3M609,365.5h6M609,370.5h3M609,375.5h3M609,380.5h3M609,384.5h3M609,389.5h6M609,394.5h3M609,399.5h3M609,404.5h3M609,408.5h3M609,413.5h6M609,418.5h3M609,423.5h3M609,428.5h3M609,433.5h3M609,437.5h6M609,442.5h3M609,447.5h3M609,452.5h3M609,457.5h3M609,461.5h6M609,466.5h3M609,471.5h3M609,476.5h3M609,481.5h3M609,486.5h6M609,490.5h3M609,495.5h3M609,500.5h3M609,505.5h3M609,510.5h6M609,515.5h3M609,519.5h3M609,524.5h3M609,529.5h3M609,534.5h6M609,539.5h3M609,543.5h3M609,548.5h3M609,553.5h3M609,558.5h6M609,563.5h3M609,568.5h3M609,573.5h3M609,578.5h3M609,582.5h6" stroke="#000" stroke-width="1" shape-rendering="crispEdges"/>
<g font-family="Liberation Sans, sans-serif" font-weight="bold" font-size="11.2" fill="#000" stroke="#000" stroke-width="0.15">
<text x="617.6" y="345.0" textLength="26" lengthAdjust="spacingAndGlyphs">25.0</text>
<text x="617.6" y="369.0" textLength="26" lengthAdjust="spacingAndGlyphs">20.0</text>
<text x="617.6" y="393.0" textLength="26" lengthAdjust="spacingAndGlyphs">15.0</text>
<text x="617.6" y="417.0" textLength="26" lengthAdjust="spacingAndGlyphs">10.0</text>
<text x="617.6" y="441.0" textLength="19" lengthAdjust="spacingAndGlyphs">5.0</text>
<text x="617.6" y="465.0" textLength="6.8" lengthAdjust="spacingAndGlyphs">0</text>
<text x="617.6" y="490.0" textLength="24" lengthAdjust="spacingAndGlyphs">-5.0</text>
<text x="617.6" y="514.0" textLength="31.5" lengthAdjust="spacingAndGlyphs">-10.0</text>
<text x="617.6" y="538.0" textLength="31.5" lengthAdjust="spacingAndGlyphs">-15.0</text>
<text x="617.6" y="562.0" textLength="31.5" lengthAdjust="spacingAndGlyphs">-20.0</text>
<text x="617.6" y="586.0" textLength="31.5" lengthAdjust="spacingAndGlyphs">-25.0</text>
</g>
<text transform="translate(665,492) rotate(-90)" font-family="Liberation Sans, sans-serif" font-weight="bold" font-size="10" stroke="#000" stroke-width="0.25" textLength="54.3" lengthAdjust="spacingAndGlyphs">Doppler, Hz</text>
<path d="M669,402.5h8M672.5,399v7" stroke="#0000e0" stroke-width="1" shape-rendering="crispEdges"/>
<text x="682.5" y="406" font-family="Liberation Sans, sans-serif" font-weight="bold" font-size="9.4" fill="#0000e0" stroke="#0000e0" stroke-width="0.3" textLength="44.6" lengthAdjust="spacingAndGlyphs">Positive</text>
<circle cx="673" cy="523" r="2.5" fill="none" stroke="#e80000" stroke-width="1"/>
<text x="682.5" y="526" font-family="Liberation Sans, sans-serif" font-weight="bold" font-size="9.4" fill="#e80000" stroke="#e80000" stroke-width="0.3" textLength="50.4" lengthAdjust="spacingAndGlyphs">Negative</text>
<text x="654" y="592.8" font-family="Liberation Sans, sans-serif" font-size="10.3" textLength="89.5" lengthAdjust="spacingAndGlyphs">ShowSkymap v 1.0</text>
<text x="754" y="592.8" font-family="Liberation Sans, sans-serif" font-size="10.3" textLength="39" lengthAdjust="spacingAndGlyphs">SD v 5.1</text>
<path d="M725.7,320.1 V318.9 Q724.1,316.9 722.8,318.4 L721.9,320.2" fill="none" stroke="#222" stroke-width="1.25"/><path d="M720.3,319.1 L723.6,320.1 L721.6,321.8 Z" fill="#000"/>
<path d="M15,43.6 C8.8,33 9.6,21 18,15 C25,10.3 33,10.4 38.9,13.2 C32,12.6 25.2,13.9 20.4,18.4 C14.6,24 13.2,33 15,43.6 Z" fill="#3a9cc4"/>
<text x="49" y="30.3" font-family="Liberation Serif, serif" font-size="11" fill="#2e2030" stroke="#2e2030" stroke-width="0.3" textLength="30.3" lengthAdjust="spacingAndGlyphs">Lowell</text>
<text x="20.2" y="42.5" font-family="Liberation Serif, serif" font-size="11" fill="#96285a" stroke="#96285a" stroke-width="0.35" textLength="59.6" lengthAdjust="spacingAndGlyphs">DIGISONDE</text>
<rect x="6.5" y="6.5" width="788" height="588" fill="none" stroke="#000" stroke-width="1" shape-rendering="crispEdges"/>
</svg>
<div class="t hb" style="left:399.4px;top:9.02px">STATION NAME    YYYY DATE  DDD HHMMSS AXN PPS IGP</div>
<div class="t hb" style="left:399.4px;top:25.869999999999997px">Athens          2016 May03 124 193320 417 100 -8U</div>
<div class="t mb" style="left:281.5px;top:46.6px">North</div>
<div class="t mb" style="left:281.5px;top:568px">South</div>
<div class="t mb" style="left:16px;top:308px">West</div>
<div class="t mb" style="left:552px;top:308px">East</div>
<div class="t m" style="left:594px;top:61px">Num of Sources           129</div>
<div class="t m" style="left:594px;top:75px">Min Freq, kHz           3300</div>
<div class="t m" style="left:594px;top:89px">Max Freq, kHz           3300</div>
<div class="t m" style="left:594px;top:103px">Min Range, km            200</div>
<div class="t m" style="left:594px;top:117px">Max Range, km            317</div>
<div class="t m" style="left:594px;top:131px">Max Amp, dB               48</div>
<div class="t m" style="left:594px;top:145px">Max SNR Amp, dB           44</div>
<div class="t m" style="left:594px;top:159px">Min SNR Amp, dB           12</div>
<div class="t m" style="left:594px;top:173px">Avg SNR Amp, dB           27</div>
<div class="t m" style="left:594px;top:187px">Max RMS Err, deg        20.0</div>
<div class="t m" style="left:594px;top:201px">Min RMS Err, deg         0.0</div>
<div class="t m" style="left:594px;top:215px">Avg RMS Err, deg         3.6</div>
<div class="t m" style="left:594px;top:229px">Doppler Res, Hz       0.3906</div>
<div class="t m" style="left:594px;top:243px">CIT, sec                2.56</div>
<div class="t m" style="left:594px;top:257px">Num of CITs                8</div>
<div class="t m" style="left:594px;top:271px">Polarization          O-mode</div>
<div class="t m" style="left:594px;top:285px">Center of Sources, deg:     </div>
<div class="t m" style="left:594px;top:299px">          Zenith         1.3</div>
<div class="t m" style="left:594px;top:313px">          Azimuth        288</div>
<div class="t mi" style="left:11.6px;top:562px">V<span class="sub">h</span> = 108 ± 37 m/s</div>
<div class="t mi" style="left:11.5px;top:582.7px">Geographic coordinates</div>
<div class="t mi" style="left:480px;top:562px">V<span class="sub">z</span> = 6 ± 2 m/s</div>
<div class="t mi" style="left:419px;top:582.7px">Zenith: max 40</div>
<div class="t mi" style="left:516px;top:582.7px">°</div>
<div class="t mi" style="left:534px;top:582.7px">step</div>
<div class="t mi" style="left:569.4px;top:582.7px">5</div>
<div class="t mi" style="left:575px;top:582.7px">°</div>
</div></body></html>
